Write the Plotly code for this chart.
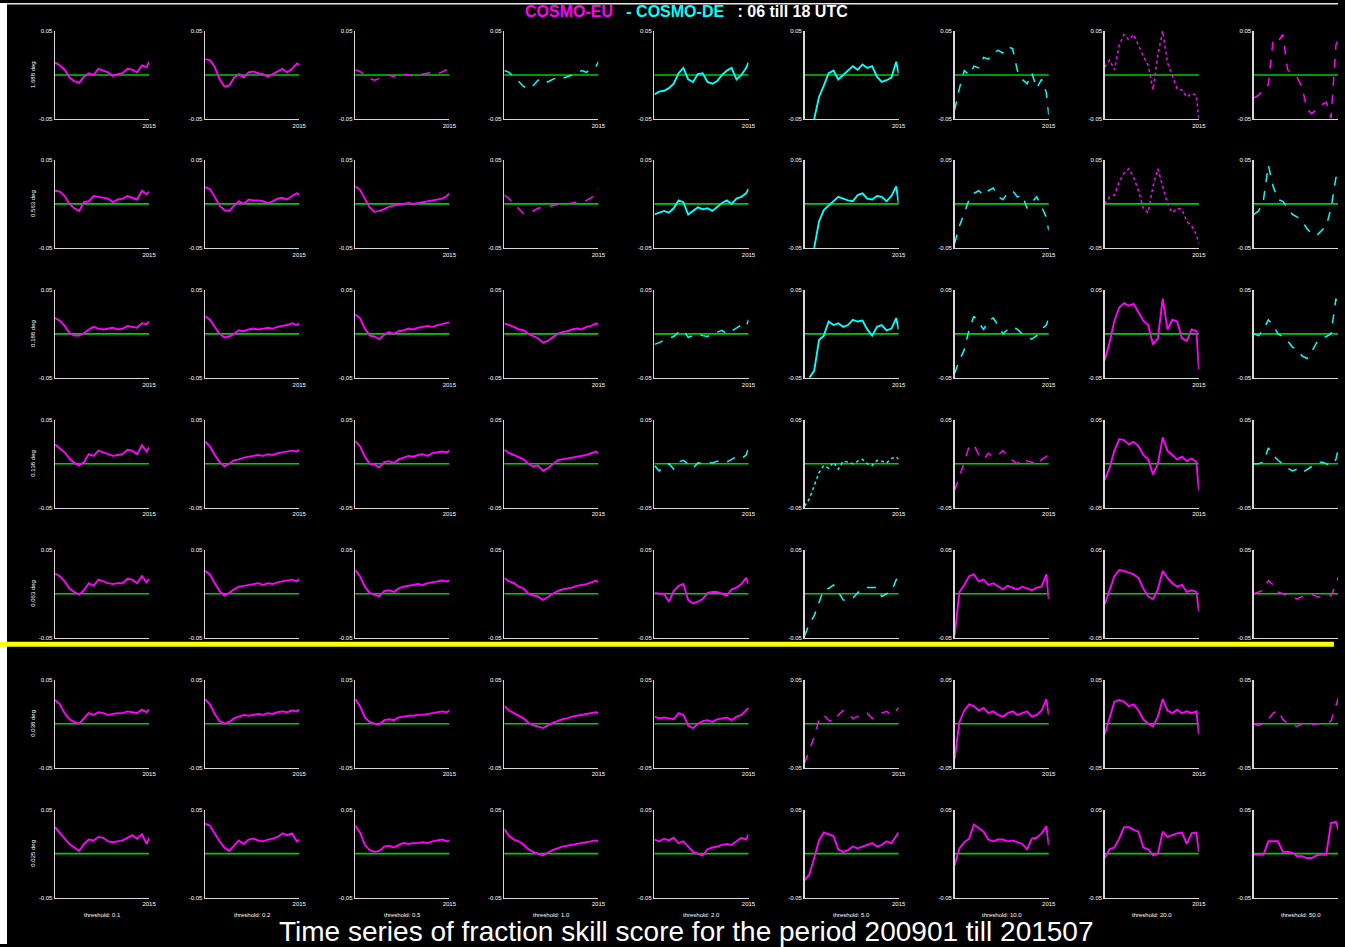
import plotly.graph_objects as go
import pandas as pd

# ---------------- data ----------------
dates = pd.date_range("2009-01-01", "2015-05-01", freq="4MS").strftime("%Y-%m-%d").tolist() + ["2015-07-01"]

row_labels = ["1.688 deg", "0.563 deg", "0.188 deg", "0.138 deg", "0.063 deg", "0.038 deg", "0.025 deg"]
thresholds = ["threshold: 0.1", "threshold: 0.2", "threshold: 0.5", "threshold: 1.0", "threshold: 2.0",
              "threshold: 5.0", "threshold: 10.0", "threshold: 20.0", "threshold: 50.0"]
y_tick_vals = [-0.05, 0.05]
y_tick_text = ["-0.05", "0.05"]
x_tick_text = ["2015"]

# FSS difference (x 1e-3), one list per panel (columns = thresholds)
row1 = [
    [14, 11, 6, -3, -7, -9, -2, 2, 0, 7, 5, 3, -1, 1, 2, 7, 6, 3, 11, 9, 15],
    [18, 17, 9, -5, -13, -12, -3, 1, -3, 3, 4, 2, 1, -2, 1, 4, 7, 3, 7, 13, 12],
    [6, 4, 0, -4, -6, -4, -1, 0, -2, 2, 1, 0, -1, 0, 1, 2, 3, 1, 4, 6, 9],
    [5, 3, -2, -8, -13, -16, -12, -6, -4, -8, -5, -3, -4, -2, 0, 2, 5, 3, 7, 10, 15],
    [-22, -19, -18, -15, -10, 2, 8, -5, -8, 1, 2, -8, -10, -7, 0, 5, 8, -5, 0, 8, 14],
    [None, None, -50, -25, -12, 2, 5, -5, 0, 5, 10, 6, 12, 8, 10, -2, -8, -6, -3, 15, 2],
    [-40, -15, 5, 0, 10, 8, 20, 18, 25, 28, 25, 32, 30, 5, -5, -10, 2, -15, -5, -20, -45],
    [9, 17, 6, 34, 46, 40, 46, 34, 21, 11, -17, 23, 50, 14, 0, -16, -17, -25, -21, -23, -50],
    [-26, -23, -17, -11, 40, 38, 46, 6, 1, -3, -14, -39, -44, -39, -34, -31, -49, 34, 46, 48, 50],
]
row2 = [
    [15, 14, 9, 0, -5, -8, 2, 3, 9, 8, 7, 6, 2, 5, 6, 9, 7, 5, 15, 11, 14],
    [19, 17, 8, -2, -7, -8, -2, 3, 0, 5, 4, 4, 3, 1, 3, 6, 7, 5, 9, 12, 11],
    [20, 16, 6, -4, -9, -8, -6, -3, -2, -1, 0, 1, 0, 1, 2, 3, 4, 5, 6, 9, 12],
    [10, 6, 0, -6, -11, -9, -8, -5, -4, -3, -2, -1, -1, 0, 1, 2, 3, 4, 7, 11, 17],
    [-12, -10, -8, -10, -5, 4, 2, -12, -8, -4, -6, -5, -8, -3, 1, 4, 0, 6, 8, 12, 17],
    [None, None, -50, -20, -7, -2, 4, 8, 6, 4, 3, 10, 12, 6, 5, 9, 8, 3, 9, 20, 1],
    [-45, -25, -10, 5, 12, 15, 10, 15, 18, 8, 5, 12, 15, 8, 10, -5, 2, 8, -3, -15, -30],
    [0, 8, 10, 25, 35, 40, 30, 15, -5, -10, 20, 40, 20, 0, -10, -5, -6, -20, -25, -35, -45],
    [-12, -8, 5, 44, 20, 5, 3, -5, -12, -15, -20, -28, -34, -36, -30, -25, -5, 30, 35, 40, 44],
]
row3 = [
    [18, 15, 9, 1, -2, -2, 1, 5, 8, 6, 5, 6, 7, 5, 6, 9, 8, 7, 12, 11, 14],
    [20, 16, 8, 0, -4, -3, 0, 4, 3, 5, 6, 5, 6, 7, 6, 8, 9, 10, 12, 10, 12],
    [22, 18, 6, -2, -3, -6, -1, 2, 0, 3, 4, 6, 5, 7, 8, 9, 8, 10, 11, 12, 13],
    [12, 10, 8, 5, 4, 0, -3, -5, -10, -8, -4, 0, 2, 3, 5, 6, 5, 8, 9, 12, 10],
    [-12, -10, -7, -5, -3, 2, 4, -4, -2, 0, -2, -3, 0, 2, 4, 0, 3, 6, 10, 8, 16],
    [None, -50, -42, -7, -2, 14, 10, 12, 8, 10, 16, 14, 15, 5, -2, 8, 10, 4, 6, 18, 5],
    [-45, -30, -18, 5, 20, 12, 5, 15, 18, 10, 0, 5, 8, 5, 0, -3, -6, -2, 5, 10, 18],
    [-30, -10, 15, 30, 35, 32, 34, 25, 15, 10, -12, -5, 40, 5, 16, 14, -5, -8, 5, 3, -40],
    [0, -2, 5, 16, 10, 0, -3, -8, -15, -18, -25, -28, -20, -10, -5, -3, 0, 40, 20, -15, -30],
]
row4 = [
    [22, 18, 13, 6, 1, -2, 2, 11, 9, 15, 13, 11, 9, 10, 11, 16, 15, 11, 21, 14, 19],
    [25, 20, 10, 2, -3, 0, 4, 5, 7, 8, 9, 10, 9, 11, 10, 12, 13, 14, 15, 14, 16],
    [26, 20, 8, 0, -1, -4, 2, 3, 1, 5, 7, 9, 8, 10, 11, 9, 12, 13, 14, 13, 15],
    [16, 12, 10, 7, 5, 0, -3, -2, -8, -5, 0, 4, 5, 6, 7, 8, 9, 10, 12, 14, 12],
    [-2, -8, -3, 0, -6, 2, 4, 0, -5, 1, 0, 2, 1, 3, 4, 2, 5, 8, 6, 10, 18],
    [-48, -40, -25, -10, -2, -5, 2, -6, 3, 2, 0, 3, 5, 0, -2, 4, 3, 1, 6, 8, 5],
    [-30, -15, 2, 20, 22, 10, 5, 12, 8, 10, 15, 8, 4, 0, 6, 3, 2, -2, 5, 8, 18],
    [-18, -5, 15, 28, 27, 22, 25, 20, 10, 5, -12, 0, 30, 15, 10, 5, 8, 3, 6, 2, -30],
    [0, 0, 2, 18, 10, 4, 0, -5, -8, -6, -10, -6, -3, 0, 2, 0, -2, 5, 30, 40, 20],
]
row5 = [
    [23, 20, 14, 6, 2, -1, 4, 12, 9, 16, 14, 12, 11, 12, 12, 17, 16, 12, 20, 13, 17],
    [26, 22, 12, 3, -2, 1, 5, 8, 9, 10, 11, 12, 10, 12, 11, 13, 14, 15, 16, 14, 17],
    [27, 20, 8, 1, -1, -3, 3, 4, 2, 6, 8, 9, 10, 11, 10, 12, 13, 14, 15, 14, 15],
    [18, 14, 12, 8, 6, 0, -2, -3, -7, -4, 0, 3, 5, 6, 7, 9, 10, 11, 13, 15, 13],
    [1, 0, 0, -9, 3, 9, 11, -7, -11, -9, -6, 1, 2, 2, 0, -2, 5, 7, 11, 18, 11],
    [-48, -34, -25, -9, 5, 6, 10, 2, -7, -8, -5, 1, 6, 7, 7, 7, -3, 0, 2, 16, 17],
    [-47, 2, 10, 20, 22, 14, 16, 10, 12, 8, 5, 9, 7, 5, 8, 6, 4, 7, 8, 22, -6],
    [-12, 5, 20, 27, 26, 24, 22, 18, 6, -3, -6, 5, 26, 18, 12, 8, 10, 2, 4, 2, -20],
    [0, 2, 4, 15, 10, 2, 0, -2, -4, -6, -3, -2, -1, -3, -4, -3, -2, 10, 28, 45, 40],
]
row6 = [
    [27, 22, 12, 5, 2, 0, 6, 12, 10, 13, 12, 10, 11, 12, 12, 14, 13, 12, 16, 13, 16],
    [28, 22, 11, 3, 0, 2, 6, 8, 10, 9, 10, 11, 10, 12, 11, 13, 14, 13, 15, 14, 16],
    [28, 20, 7, 2, 0, -1, 4, 5, 4, 7, 8, 9, 9, 10, 10, 11, 12, 13, 14, 13, 15],
    [20, 15, 12, 9, 6, 1, -2, -3, -5, -2, 1, 3, 5, 6, 8, 9, 10, 11, 12, 13, 12],
    [8, 6, 7, 6, 5, 12, 10, -2, -5, 0, 3, 4, 2, 5, 6, 7, 4, 8, 10, 15, 18],
    [-45, -30, -15, 5, 10, 4, 2, 10, 15, 12, 6, 8, 10, 12, 6, 8, 12, 14, 10, 16, 18],
    [-40, 2, 15, 22, 20, 15, 18, 12, 14, 10, 8, 12, 14, 10, 12, 14, 8, 10, 15, 28, 10],
    [-12, 5, 25, 27, 25, 20, 22, 15, 5, 0, -3, 8, 28, 15, 12, 16, 12, 14, 12, 14, -12],
    [0, -2, 0, 5, 12, 15, 5, 0, -2, -3, 0, 0, -1, 0, 0, 0, 3, 20, 38, 10, -5],
]
row7 = [
    [30, 23, 17, 11, 7, 3, 11, 16, 15, 19, 18, 14, 13, 14, 15, 18, 21, 17, 22, 11, 18],
    [34, 32, 23, 14, 7, 3, 9, 15, 11, 16, 17, 15, 14, 16, 17, 19, 23, 21, 23, 14, 16],
    [32, 24, 10, 4, 2, 3, 8, 9, 7, 10, 12, 11, 12, 12, 13, 12, 14, 15, 16, 14, 15],
    [28, 20, 16, 14, 10, 5, 2, 0, -2, 1, 4, 6, 8, 9, 10, 11, 12, 13, 14, 15, 14],
    [16, 14, 17, 15, 18, 12, 14, 8, 2, 0, -2, 5, 7, 8, 10, 11, 10, 14, 18, 16, 22],
    [-30, -24, -5, 15, 24, 22, 20, 5, 2, 4, 8, 6, 8, 10, 12, 8, 10, 14, 12, 20, 24],
    [-13, 6, 13, 17, 33, 29, 25, 16, 14, 16, 16, 14, 15, 13, 11, 5, 17, 18, 23, 31, 10],
    [-5, 5, 7, 17, 30, 30, 27, 25, 7, 5, -2, 0, 25, 19, 21, 23, 24, 11, 23, 24, 2],
    [-1, -1, -1, 14, 14, 14, 2, 2, 1, -3, -3, -5, -5, -2, -1, -1, 35, 36, 19, 19, -45],
]
rows = [row1, row2, row3, row4, row5, row6, row7]

# ---------------- styles ----------------
M, C = "#ff00ff", "#00ffff"
panel_color = [
    [M, M, M, C, C, C, C, M, M],
    [M, M, M, M, C, C, C, M, C],
    [M, M, M, M, C, C, C, M, C],
    [M, M, M, M, C, C, M, M, C],
    [M, M, M, M, M, C, M, M, M],
    [M, M, M, M, M, M, M, M, M],
    [M, M, M, M, M, M, M, M, M],
]
S, D, P = "solid", "dash", "dot"
panel_dash = [
    [S, S, D, D, S, S, D, P, D],
    [S, S, S, D, S, S, D, P, D],
    [S, S, S, S, D, S, D, S, D],
    [S, S, S, S, D, P, D, S, D],
    [S, S, S, S, S, D, S, S, D],
    [S, S, S, S, S, D, S, S, D],
    [S, S, S, S, S, S, S, S, S],
]

W, H = 1345, 947
# the page is photographed slightly shrunk (~0.994) and shifted down ~3px;
# place everything in target-pixel terms and convert to layout pixels
SC, OFFY = 0.9941, 3.0


def lx(px):
    return px / SC


def ly(py):
    return (py - OFFY) / SC


col_left = [55, 205, 355, 504, 654, 804, 954, 1104, 1253]
row_top = [31, 160, 290, 420, 550, 680, 810]
pw, ph = 94, 88
FONT = "Liberation Sans"
AX = "#d8d8d8"

fig = go.Figure()
layout = dict(
    width=W, height=H, autosize=False,
    margin=dict(l=0, r=0, t=0, b=0),
    paper_bgcolor="black", plot_bgcolor="black",
    showlegend=False,
)
annotations = []
shapes = []
t0 = pd.Timestamp(dates[0])
t1 = pd.Timestamp(dates[-1])

n = 0
for r, row in enumerate(rows):
    for c, vals in enumerate(row):
        n += 1
        sfx = "" if n == 1 else str(n)
        x0 = lx(col_left[c])
        x1 = lx(col_left[c] + pw)
        xr_end = t1
        if x1 > W:
            frac = (W - x0) / (x1 - x0)
            xr_end = t0 + (t1 - t0) * frac
            x1 = W
        dom_x = [x0 / W, x1 / W]
        top = row_top[r]
        dom_y = [1 - ly(top + ph) / H, 1 - ly(top) / H]
        sol = panel_dash[r][c] == S
        fig.add_trace(go.Scatter(
            x=dates, y=[None if v is None else v / 1000 for v in vals],
            mode="lines", xaxis="x" + sfx, yaxis="y" + sfx,
            line=dict(color=panel_color[r][c], width=1.9 if sol else 1.5,
                      dash=panel_dash[r][c]),
            connectgaps=False, hoverinfo="skip",
        ))
        layout["xaxis" + sfx] = dict(
            domain=dom_x, anchor="y" + sfx, type="date",
            range=[t0.strftime("%Y-%m-%d"), xr_end.strftime("%Y-%m-%d %H:%M")],
            showline=True, linecolor=AX, linewidth=1.5, showgrid=False, zeroline=False,
            tickmode="array", tickvals=[dates[-1]], ticktext=x_tick_text,
            ticks="inside", ticklen=4, tickcolor=AX, tickwidth=1.2,
            tickfont=dict(family=FONT, size=6, color="white"), fixedrange=True,
        )
        layout["yaxis" + sfx] = dict(
            domain=dom_y, anchor="x" + sfx, range=[-0.05, 0.05],
            showline=True, linecolor=AX, linewidth=1.5, showgrid=False, zeroline=False,
            tickmode="array", tickvals=y_tick_vals, ticktext=y_tick_text,
            ticks="inside", ticklen=4, tickcolor=AX, tickwidth=1.2,
            tickfont=dict(family=FONT, size=6, color="white"), fixedrange=True,
        )
        # green zero reference line
        shapes.append(dict(
            type="line", xref="x" + sfx + " domain", yref="y" + sfx,
            x0=0, x1=1, y0=0, y1=0, line=dict(color="#00cc00", width=1.6), layer="below",
        ))

# row labels
for r, lab in enumerate(row_labels):
    annotations.append(dict(
        x=lx(33) / W, y=1 - ly(row_top[r] + ph / 2) / H, xref="paper", yref="paper",
        xanchor="center", yanchor="middle",
        text=lab, textangle=-90, showarrow=False,
        font=dict(family=FONT, size=6, color="white"),
    ))
# threshold labels
for c, lab in enumerate(thresholds):
    annotations.append(dict(
        x=lx(col_left[c] + pw / 2) / W, y=1 - ly(915) / H, xref="paper", yref="paper",
        xanchor="center", yanchor="middle",
        text=lab, showarrow=False, font=dict(family=FONT, size=6, color="white"),
    ))
# titles
annotations.append(dict(
    x=lx(686) / W, y=1 - ly(12) / H, xref="paper", yref="paper", showarrow=False,
    xanchor="center", yanchor="middle",
    text='<b><span style="color:#ff00ff">COSMO-EU</span>   '
         '<span style="color:#00ffff">- COSMO-DE</span>   '
         '<span style="color:white">: 06 till 18 UTC</span></b>',
    font=dict(family=FONT, size=16, color="white"),
))
annotations.append(dict(
    x=lx(686) / W, y=1 - ly(932) / H, xref="paper", yref="paper", showarrow=False,
    xanchor="center", yanchor="middle",
    text="Time series of fraction skill score for the period 200901 till 201507",
    font=dict(family=FONT, size=28, color="white"),
))
layout["annotations"] = annotations

shapes += [
    dict(type="rect", xref="paper", yref="paper", x0=0, x1=1, y0=1 - 1.5 / H, y1=1,
         fillcolor="#e8e8e8", line=dict(width=0), layer="above"),
    dict(type="rect", xref="paper", yref="paper", x0=0, x1=lx(7) / W, y0=0, y1=1,
         fillcolor="white", line=dict(width=0), layer="above"),
    dict(type="rect", xref="paper", yref="paper", x0=0, x1=lx(1333) / W,
         y0=1 - ly(647) / H, y1=1 - ly(642) / H,
         fillcolor="#ffff00", line=dict(width=0), layer="above"),
]
layout["shapes"] = shapes

fig.update_layout(**layout)
fig.write_html(
    "out.html", config={"staticPlot": True, "responsive": False},
    post_script=(
        "var d=document.documentElement,b=document.body;"
        "d.style.margin='0';d.style.padding='0';d.style.overflow='hidden';"
        "b.style.margin='0';b.style.padding='0';b.style.overflow='hidden';"
        "window.scrollTo(0,0);"
    ),
)
